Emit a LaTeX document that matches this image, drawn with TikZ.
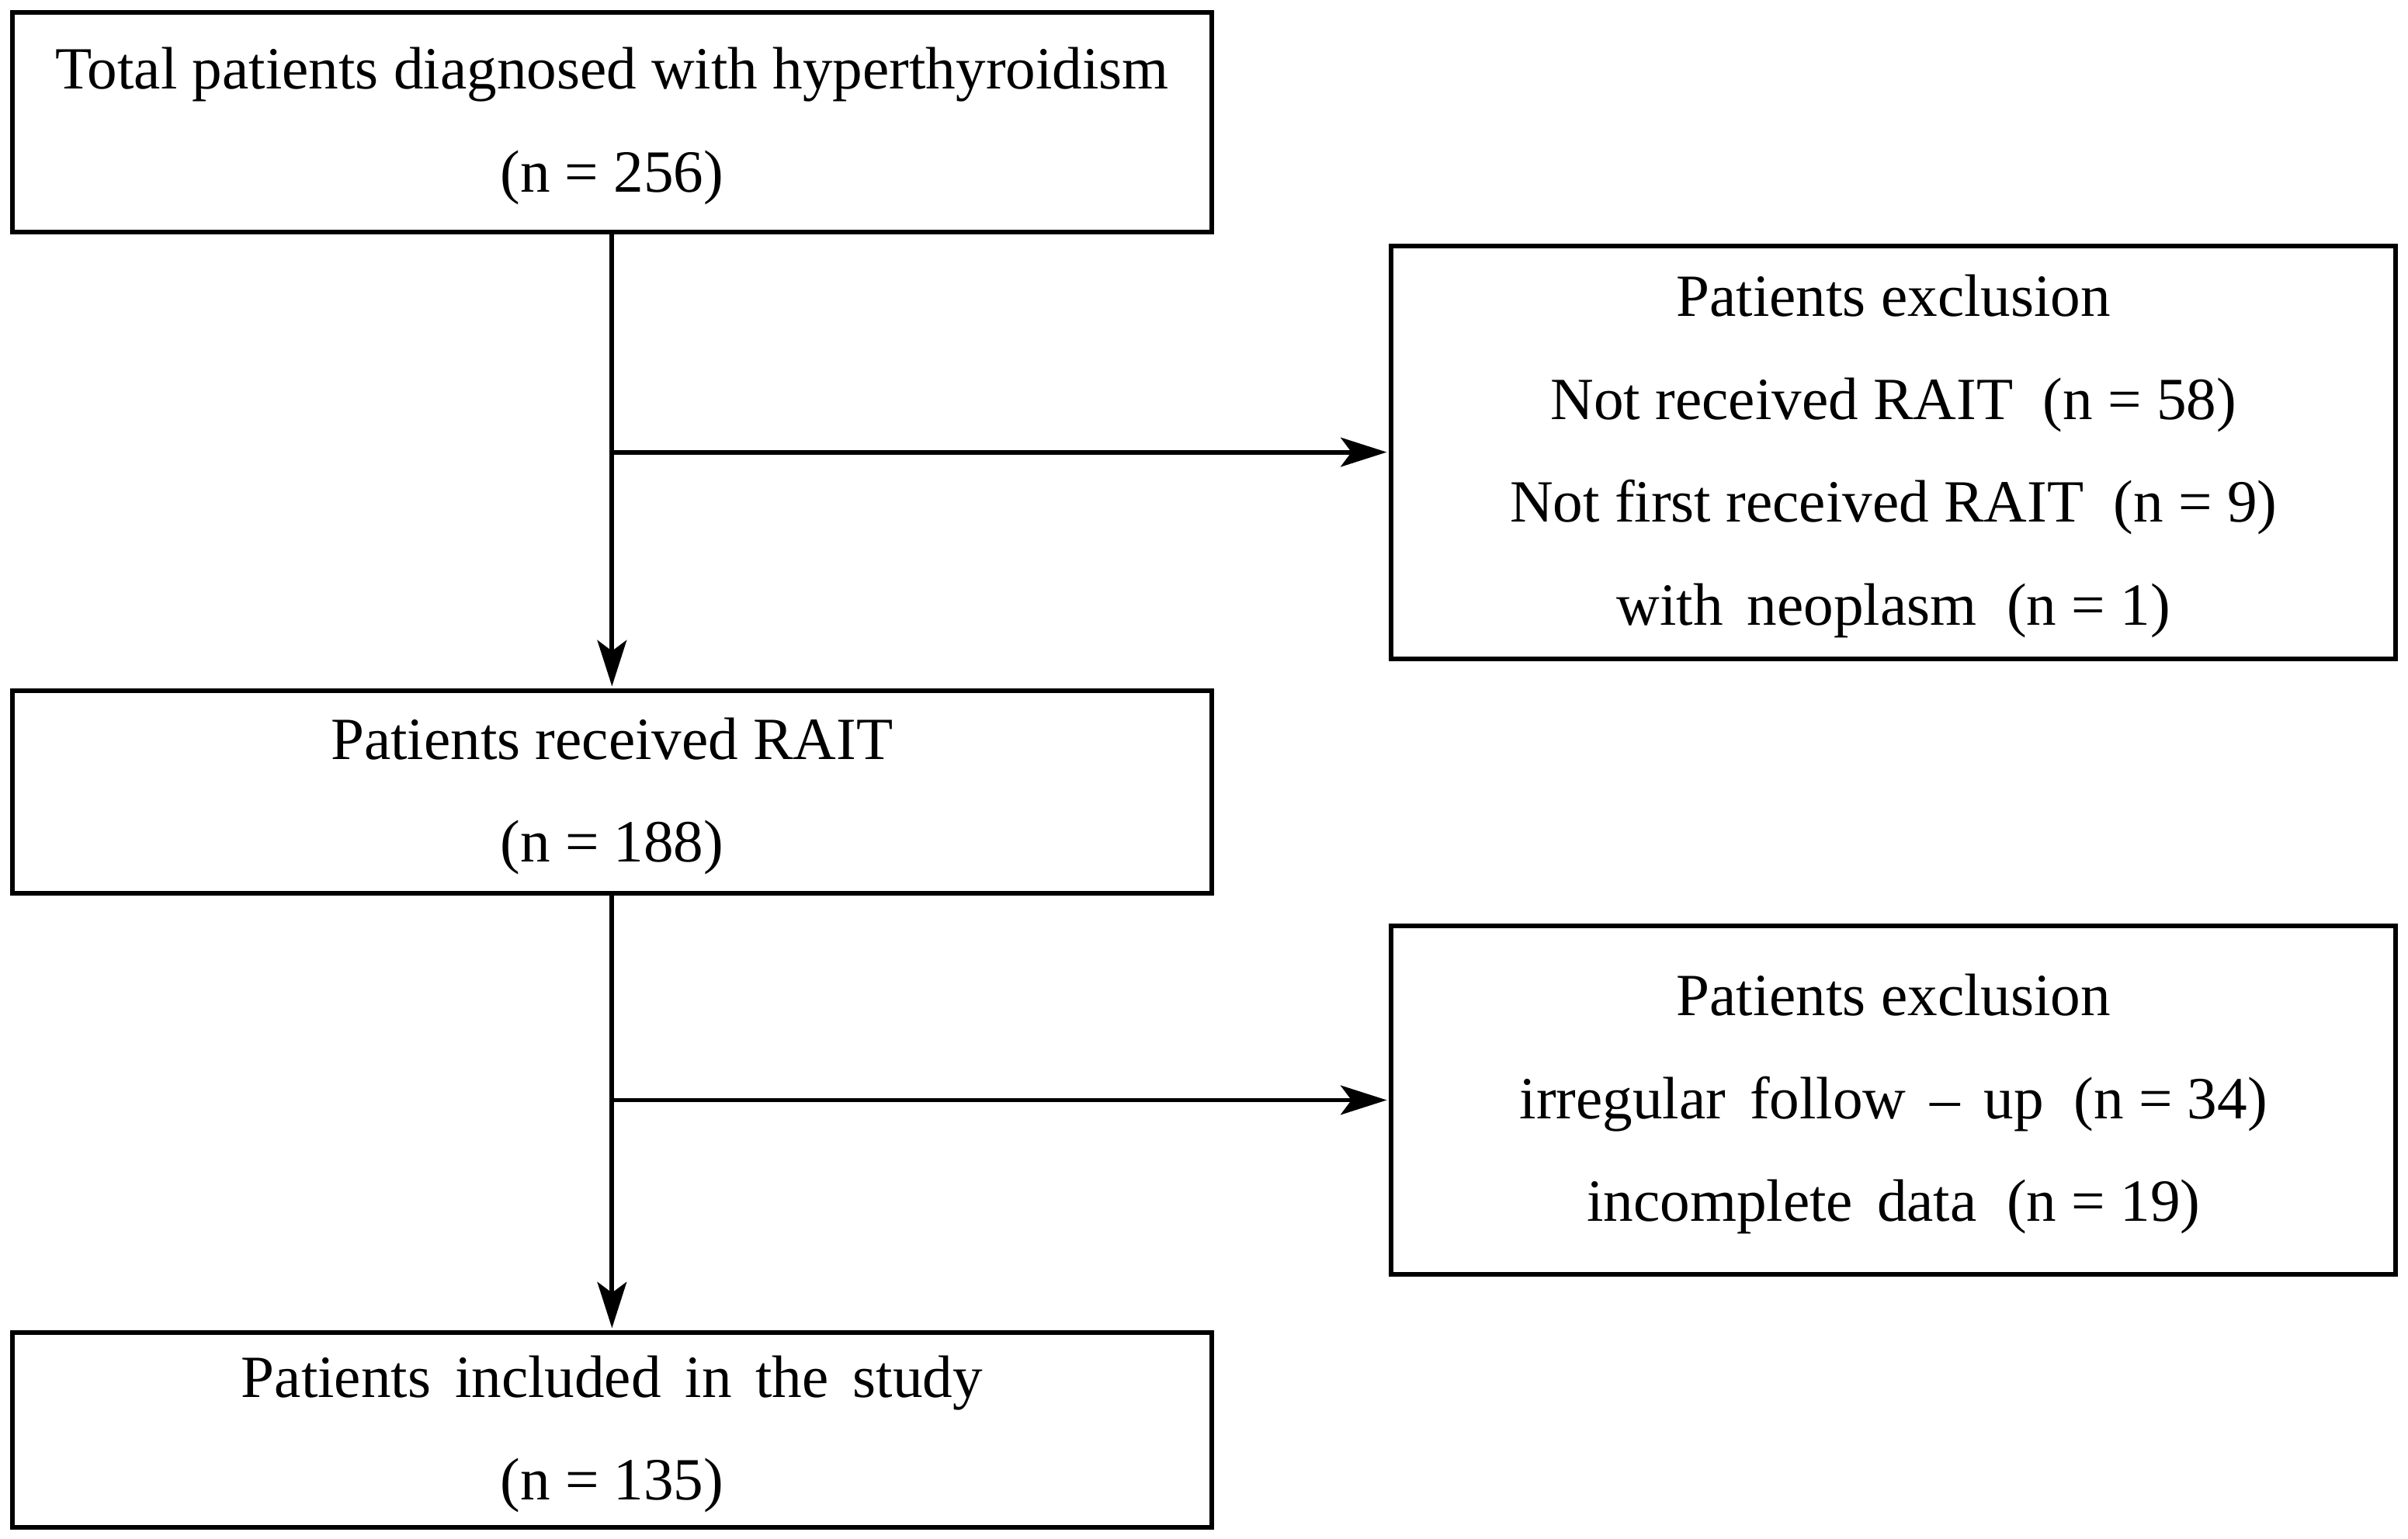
\documentclass[tikz,border=0pt]{standalone}
\usepackage{fontspec}
\setmainfont{Liberation Serif}
\usetikzlibrary{arrows.meta}
\newcommand\st{\rule[-16pt]{0pt}{56pt}}
\newcommand\gp{\hspace{0.5em}}
\begin{document}
\begin{tikzpicture}[x=1pt,y=-1pt,
  box/.style={draw, line width=3pt, inner sep=0pt, align=center,
    font=\fontsize{39}{67}\selectfont},
  conn/.style={line width=3pt, shorten >=1.5pt,
    -{Stealth[length=30pt,width=19pt,inset=7pt]}}]
\useasboundingbox (0,0) rectangle (1568,1002);
\node[box, minimum width=781pt, minimum height=143pt] (b1) at (398.5,79.5)
  {\st Total patients diagnosed with hyperthyroidism\\ \st (n = 256)};
\node[box, minimum width=654pt, minimum height=269pt] (b2) at (1233,294.5)
  {\st Patients exclusion\\
   \st Not received RAIT\gp(n = 58)\\
   \st Not first received RAIT\gp(n = 9)\\
   \st {\spaceskip=0.4em with neoplasm}\gp(n = 1)};
\node[box, minimum width=781pt, minimum height=132pt] (b3) at (398.5,516)
  {\st Patients received RAIT\\ \st (n = 188)};
\node[box, minimum width=654pt, minimum height=227pt] (b4) at (1233,716.5)
  {\st Patients exclusion\\
   \st {\spaceskip=0.4em irregular follow – up}\gp(n = 34)\\
   \st {\spaceskip=0.4em incomplete data}\gp(n = 19)};
\node[box, minimum width=781pt, minimum height=127pt] (b5) at (398.5,931.5)
  {\st {\spaceskip=0.4em Patients included in the study}\\ \st (n = 135)};
\coordinate (j1) at (398.5,294.5);
\coordinate (j2) at (398.5,716.5);
\draw[conn] (b1) -- (b3);
\draw[conn] (b3) -- (b5);
\draw[conn] (j1) -- (b2);
\draw[conn] (j2) -- (b4);
\end{tikzpicture}
\end{document}
